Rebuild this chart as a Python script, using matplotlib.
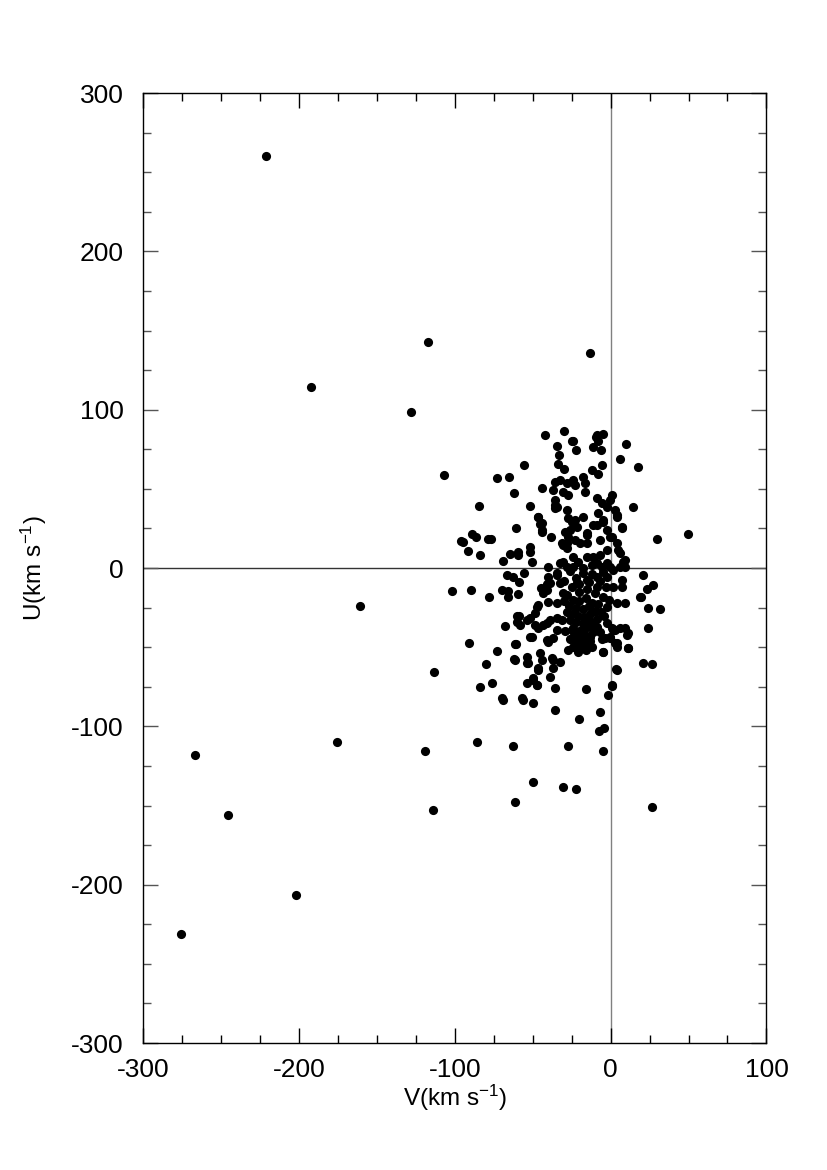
import matplotlib
matplotlib.use('Agg')
import matplotlib.pyplot as plt
from matplotlib.ticker import MultipleLocator

plt.rcParams['font.family'] = ['Liberation Sans', 'DejaVu Sans']
plt.rcParams['mathtext.default'] = 'regular'
plt.rcParams['axes.unicode_minus'] = False

# outlying (halo-like) stars, V then U in km/s
halo_v = [-220.9, -117.1, -192.2, -128.2, -107.1, -95.8, -101.5, -161.0, -113.5, -175.7,
          -266.8, -118.9, -245.4, -113.7, -201.6, -275.4, -13.0, 49.4, 29.5, 26.6,
          -61.1, -49.8, -30.3, -22.2, -85.7, -62.4, -27.1, -4.9]
halo_u = [260.5, 142.6, 114.5, 98.3, 58.5, 16.9, -14.7, -23.8, -65.7, -110.1,
          -117.9, -115.4, -156.0, -152.7, -206.6, -231.4, 136.0, 21.7, 18.1, -151.0,
          -148.0, -135.2, -138.3, -139.6, -110.1, -112.4, -112.4, -115.6]

# upper half of the main clump (U > 0)
upper_v = [-41.9, -29.9, -24.5, -22.4, -34.2, -33.3, -34.0, -29.7, -8.9, -4.7,
           -11.1, -6.2, -7.9, 9.7, 6.0, 17.6, -5.7, -12.1, -7.9, -55.7,
           -73.0, -65.2, -61.8, -84.6, -51.9, -43.8, 14.6, 7.3, -46.6, -45.3,
           -44.2, -60.9, -38.2, -94.9, -91.7, -88.7, -86.5, -83.8, -78.4, -76.7,
           -69.2, -64.5, -59.2, -59.6, -51.7, -51.7, -50.2, -40.0,
           -35.7, -32.5, -28.2, -23.9, -22.8, -17.5, -16.4, -36.8, -30.3, -27.1,
           -16.4, -35.7, -34.6, -35.7, -28.2, -27.1, -25.0, -22.8, -17.5, -21.7,
           -26.0, -27.1, -28.2, -30.3, -22.8, -19.6, -15.3, -11.1, -8.9, -5.7,
           -2.5, 0.7, -0.4, 2.8, 3.9, -4.7, -2.5, -7.9, 0.7, 3.9,
           4.9, -2.5, -6.8, -11.1, -15.3, -20.7, -23.9, -30.3, -32.5, 8.1,
           9.2, 6.0, -0.4, -5.7, -12.1,
           -46.8, -44.2, -44.2, -35.7, -29.2, -31.4, -28.2, -15.3, -15.3, -8.9,
           -4.7, -6.8, -0.4, 3.9, 7.1, 6.0, 9.2, -2.5, -8.9, -23.9,
           -28.2, -9.4, -24.3]
upper_u = [84.0, 86.5, 80.2, 74.5, 77.1, 71.4, 65.5, 62.5, 83.8, 84.6,
           76.6, 74.5, 80.4, 78.5, 68.7, 63.8, 65.0, 61.9, 59.2, 64.9,
           56.7, 57.3, 47.2, 39.2, 39.2, 50.3, 38.7, 25.7, 32.4, 27.8,
           24.0, 25.0, 19.8, 16.6, 10.9, 21.5, 19.4, 8.0, 18.1, 18.1,
           4.6, 8.8, 10.3, 8.2, 13.5, 10.3, 4.0, 0.4,
           54.5, 55.6, 53.5, 55.6, 52.4, 57.7, 53.5, 49.3, 48.2, 46.1,
           48.2, 43.0, 38.7, 37.7, 36.6, 31.4, 29.3, 30.3, 32.4, 26.1,
           24.0, 19.8, 15.6, 14.5, 17.7, 15.6, 20.8, 27.2, 44.0, 40.9,
           38.7, 46.1, 43.0, 36.6, 32.4, 29.3, 24.0, 34.6, 19.8, 15.6,
           11.4, 11.4, 8.2, 7.1, 7.1, 4.0, 0.8, 4.0, 3.0, 4.0,
           0.8, 0.8, 0.8, 0.8, 1.9,
           32.4, 28.2, 22.9, 39.8, 22.9, 15.6, 12.4, 21.9, 15.6, 27.2,
           30.3, 17.7, 19.8, 33.5, 25.0, 9.3, 5.1, 3.0, 3.0, 7.1,
           0.8, 82.9, 80.2]

# lower half of the main clump (U < 0)
lower_v = [-17.5, -55.5, -66.6, -62.4, -58.6, -89.5, -77.8, -69.9, -65.6, -65.6,
           -59.2, -44.8, -41.0, -43.2, -40.0, -34.6, -47.0, -48.5, -40.0, -34.6,
           -30.3, -58.6, -60.2, -58.1, -53.8, -51.7, -48.5, -46.4, -43.2, -38.9,
           -34.6, -34.6, -67.9, -50.6, -41.0, -36.8, -90.6, -73.1, -60.7, -61.8,
           -53.8, -53.8, -45.3, -44.2, -46.4, -37.8, -32.5, -36.8, -38.9, -80.1,
           -76.3, -83.8, -53.8, -49.6, -47.0, -35.7, -16.0, -69.2, -56.4, -50.0,
           -35.9, -20.5, -6.6, 1.1, -1.5, 3.5, -5.1, 21.0, 26.4, 24.2,
           11.4, 10.3, 9.2, 2.8, 0.7, 3.9, -0.4, -5.7, -2.5, 3.9,
           9.2, 19.3, 24.2, 31.7, 21.0, 23.2, 27.4, -7.4, -4.2,
           -34.6, -32.5, -38.9, -41.0, -21.7, -15.3, -8.9, -4.7, 1.7, -2.5,
           1.7, 7.1, 7.1, 18.9,
           -60.2, -46.4, -51.7, -61.3, -41.0, -40.0, -61.3, -52.8, -46.4, -36.8,
           -49.6, -47.4, -27.1, -19.6, -15.3, -4.7, -25.0, -23.9, -21.7, -17.5,
           -13.2, -11.1, -8.9, -6.8, -3.6, -0.4, 1.7, 2.8, 11.4, 6.0,
           11.4, 3.9, 3.9, 0.7, -69.9, -57.0]
lower_u = [-0.2, -3.0, -4.4, -5.5, -8.7, -13.9, -18.5, -13.9, -14.3, -18.1,
           -16.6, -12.8, -10.1, -16.0, -21.3, -22.3, -24.4, -28.6, -5.5, -4.4,
           -16.0, -30.3, -33.9, -36.0, -32.8, -31.8, -36.0, -38.1, -36.0, -32.8,
           -31.8, -39.2, -36.6, -43.8, -45.5, -44.4, -47.6, -52.2, -48.0, -57.7,
           -56.0, -60.2, -53.9, -58.1, -63.4, -57.0, -59.2, -63.4, -68.7, -60.6,
           -72.8, -75.4, -72.8, -69.7, -73.9, -76.0, -76.2, -83.4, -83.4, -85.5,
           -89.7, -95.6, -91.2, -74.4, -80.2, -64.0, -52.9, -60.2, -60.6, -37.9,
           -50.3, -42.3, -38.1, -39.2, -38.1, -47.6, -44.4, -44.9, -24.4, -22.3,
           -22.3, -18.5, -25.5, -25.9, -4.4, -13.3, -10.9, -102.8, -101.3,
           -3.3, -9.7, -9.7, -13.9, -9.7, -7.6, -5.5, -2.3, -1.3, -5.5,
           -11.8, -7.6, -11.8, -18.1,
           -30.1, -23.4, -43.4, -48.0, -34.9, -46.6, -58.1, -59.8, -64.4, -58.1,
           -70.8, -73.9, -51.8, -50.7, -49.7, -52.9, -39.2, -43.4, -47.6, -45.5,
           -43.4, -40.2, -37.1, -40.2, -44.4, -43.4, -39.2, -47.6, -41.3, -38.1,
           -50.7, -49.7, -64.4, -73.9, -82.3, -82.3]

# densest part of the clump, read as closely as the overlap allows
core_v = [-24, -20, -16, -12, -27, -22, -18, -14, -10, -25, -21, -17, -13, -9, -26,
          -22, -18, -14, -11, -24, -19, -15, -21, -17, -13, -19, -23, -16, -21, -12,
          -26, -28, -30, -8, -6, -20, -15, -25, -10, -5, -28, -30, -22, -18, -12,
          -7, -3, -26, -14, -20, -9, -1, -4, -2, -18, -24, -29, -31]
core_u = [-20, -21, -19, -22, -24, -25, -26, -24, -27, -29, -30, -31, -29, -32, -33,
          -34, -35, -33, -36, -38, -39, -37, -42, -41, -46, -48, -46, -52, -53, -50,
          -45, -28, -21, -23, -28, -15, -13, -12, -16, -18, -17, -8, -6, -3, -4,
          -8, -12, -2, -9, -10, -12, -20, -30, -35, -44, -50, -40, -33]

fig = plt.figure(figsize=(8.27, 11.70), dpi=100)
ax = fig.add_axes([0.1729, 0.1085, 0.7539, 0.812])

ax.axhline(0, color='#333333', lw=1.0, zorder=1)
ax.axvline(0, color='#808080', lw=1.0, zorder=1)

for vs, us in [(halo_v, halo_u), (upper_v, upper_u), (lower_v, lower_u), (core_v, core_u)]:
    ax.plot(vs, us, 'o', color='black', ms=6.6, mec='none', zorder=3)

ax.set_xlim(-300, 100)
ax.set_ylim(-300, 300)
ax.xaxis.set_major_locator(MultipleLocator(100))
ax.xaxis.set_minor_locator(MultipleLocator(25))
ax.yaxis.set_major_locator(MultipleLocator(100))
ax.yaxis.set_minor_locator(MultipleLocator(25))
ax.tick_params(which='both', direction='in', top=True, right=True, labelsize=19,
               width=1.0)
ax.tick_params(axis='x', which='major', pad=11)
ax.tick_params(axis='y', which='major', pad=14)
ax.tick_params(which='major', length=11)
ax.tick_params(which='minor', length=5.5)
ax.tick_params(axis='y', which='both', color='#555555')
for s in ax.spines.values():
    s.set_linewidth(1.0)

ax.set_xlabel('V(km s$^{-1}$)', fontsize=17.5, labelpad=0)
ax.set_ylabel('U(km s$^{-1}$)', fontsize=17.5, labelpad=16)

fig.savefig('out.png', dpi=100)
